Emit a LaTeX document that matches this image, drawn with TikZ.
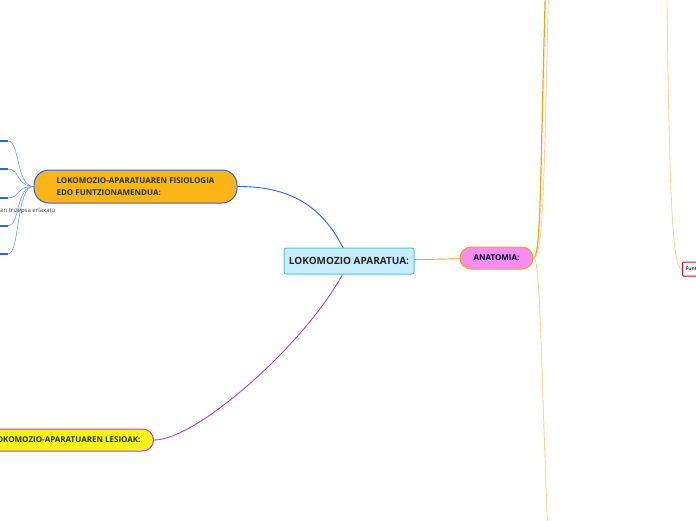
\documentclass[tikz,border=0pt]{standalone}
\usepackage{fontspec}
\setmainfont{Open Sans}
\usetikzlibrary{positioning,backgrounds}
\definecolor{skyfill}{HTML}{C7EDFB}
\definecolor{skyline}{HTML}{5DBFEA}
\definecolor{pinkfill}{HTML}{F68EF2}
\definecolor{orangeline}{HTML}{F9A11B}
\definecolor{orangelight}{HTML}{FDD49A}
\definecolor{fisfill}{HTML}{FBB516}
\definecolor{fisline}{HTML}{2B63F0}
\definecolor{fislight}{HTML}{7FA6F7}
\definecolor{lesfill}{HTML}{F8F11B}
\definecolor{lesline}{HTML}{AC41F2}
\definecolor{funline}{HTML}{C8102E}
\definecolor{textgreen}{HTML}{1E3B1E}
\begin{document}
\begin{tikzpicture}[x=1pt, y=-1pt,
  topic/.style={draw, line width=1pt, font=\bfseries\fontsize{8}{12}\selectfont, text=textgreen}]
\useasboundingbox (0,0) rectangle (696,520);
\clip (0,0) rectangle (696,520);

\node[topic, fill=skyfill, draw=skyline, rounded corners=2pt, minimum width=130pt, minimum height=26pt, text=black!85, font=\bfseries\fontsize{10}{12}\selectfont] (apar) at (349,261) {LOKOMOZIO APARATUA:};
\node[topic, fill=pinkfill, draw=orangeline, rounded corners=11pt, minimum width=73pt, minimum height=22pt, text=black!80!blue, font=\bfseries\fontsize{8}{10}\selectfont] (anat) at (496.5,258) {ANATOMIA:};
\node[topic, fill=fisfill, draw=fisline, rounded corners=15pt, minimum width=203pt, minimum height=33pt, align=left] (fis) at (135.5,186.5) {LOKOMOZIO-APARATUAREN FISIOLOGIA\\EDO FUNTZIONAMENDUA:};
\node[topic, fill=lesfill, draw=lesline, rounded corners=11pt, minimum height=22pt, inner xsep=13pt, anchor=east] (les) at (154,440) {LOKOMOZIO-APARATUAREN LESIOAK:};
\node[draw=funline, line width=1pt, fill=white, rounded corners=1pt, minimum height=14pt, inner xsep=3pt, anchor=west, font=\bfseries\fontsize{5}{6}\selectfont, text=black!80] (fun) at (682,269) {Funtzioak:};

\node[anchor=base west, inner sep=0pt, font=\fontsize{6}{7}\selectfont, text=black!75] (triz) at (0,212) {an trizepsa erlaxatu};

\coordinate (anatup) at (547,-60);
\coordinate (anatup2) at (550,-60);
\coordinate (anatdown) at (549,560);
\coordinate (funup) at (666,-80);

\begin{scope}[on background layer]
\draw[fisline, line width=0.9pt] (fis.east) .. controls (300,186) and (330,215) .. (apar.center);
\draw[lesline, line width=0.9pt] (apar.center) .. controls (320,330) and (200,440) .. (les.east);
\draw[orangeline, line width=0.9pt] (apar.center) -- (anat.center);
\draw[orangeline, line width=1.2pt] (anat.east) .. controls (542,258) and (540,150) .. (anatup);
\draw[orangelight, line width=0.9pt] (anat.east) .. controls (545,258) and (544,150) .. (anatup2);
\draw[orangelight, line width=0.9pt] (anat.east) .. controls (541,258) and (541,380) .. (anatdown);
\draw[orangelight, line width=0.9pt] (funup) .. controls (669,200) and (672,269) .. (fun.west);
\foreach \y/\n in {141/a,169/b,198/c,226/d,254/e} {
  \coordinate (fis\n) at (8,\y);
  \draw[fislight, line width=0.7pt] (fis.west) .. controls (16,186) and (20,\y) .. (fis\n);
  \draw[fisline, line width=1.3pt] (fis\n) -- ++(-12,0);
}
\end{scope}
\end{tikzpicture}
\end{document}
